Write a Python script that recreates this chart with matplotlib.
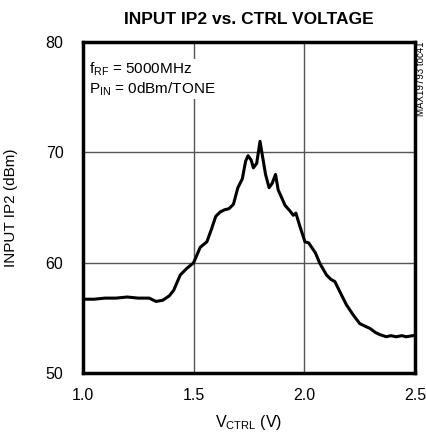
import numpy as np
import matplotlib
matplotlib.use("Agg")
import matplotlib.pyplot as plt

plt.rcParams["font.family"] = ["Liberation Sans", "DejaVu Sans"]
plt.rcParams["mathtext.fontset"] = "custom"
plt.rcParams["mathtext.rm"] = "Liberation Sans"
plt.rcParams["mathtext.it"] = "Liberation Sans"

# IP2 sweep over control voltage
vctrl = [1.00, 1.05, 1.10, 1.15, 1.20, 1.25, 1.30, 1.33, 1.36, 1.39, 1.41,
         1.44, 1.47, 1.50, 1.53, 1.56, 1.58, 1.60, 1.62, 1.64, 1.66, 1.68,
         1.70, 1.72, 1.735, 1.746, 1.76, 1.77, 1.785, 1.80, 1.81, 1.825,
         1.841, 1.855, 1.87, 1.882, 1.90, 1.913, 1.935, 1.95, 1.962, 1.98,
         2.003, 2.02, 2.033, 2.05, 2.07, 2.10, 2.12, 2.138, 2.16, 2.19,
         2.22, 2.25, 2.27, 2.297, 2.32, 2.34, 2.37, 2.39, 2.415, 2.44,
         2.46, 2.49, 2.50]
ip2 = [56.7, 56.7, 56.8, 56.8, 56.9, 56.8, 56.8, 56.5, 56.6, 57.0, 57.5,
       58.9, 59.5, 60.0, 61.4, 61.9, 63.0, 64.2, 64.6, 64.8, 64.9, 65.3,
       66.8, 67.6, 69.2, 69.7, 69.3, 68.6, 69.0, 71.0, 69.8, 68.0,
       66.8, 67.2, 68.0, 66.6, 65.8, 65.2, 64.7, 64.3, 64.5, 63.3,
       61.9, 61.8, 61.4, 60.9, 59.95, 58.9, 58.5, 58.3, 57.4, 56.2,
       55.3, 54.5, 54.3, 54.05, 53.7, 53.5, 53.3, 53.4, 53.3, 53.4,
       53.3, 53.4, 53.4]

x_ticks = [1.0, 1.5, 2.0, 2.5]
y_ticks = [50, 60, 70, 80]

fig = plt.figure(figsize=(4.27, 4.37), dpi=100)
ax = fig.add_axes([0.194, 0.146, 0.778, 0.758])

ax.plot(vctrl, ip2, color="black", linewidth=2.2, zorder=3)

ax.set_xlim(1.0, 2.5)
ax.set_ylim(50, 80)
ax.set_xticks(x_ticks)
ax.set_yticks(y_ticks)
ax.set_xticklabels([f"{v:.1f}" for v in x_ticks])
ax.set_yticklabels([str(v) for v in y_ticks])
ax.tick_params(length=0, labelsize=11.5)
ax.tick_params(axis="y", pad=14)
ax.tick_params(axis="x", pad=11)
ax.grid(True, color="#555555", linewidth=1.0)
ax.set_axisbelow(True)
for s in ax.spines.values():
    s.set_linewidth(2.5)

ax.set_xlabel(r"V$_{\mathrm{CTRL}}$ (V)", fontsize=11.5, labelpad=7)
ax.set_ylabel("INPUT IP2 (dBm)", fontsize=11, labelpad=20)

ax.text(0.02, 0.945,
        "f$_{\\mathrm{RF}}$ = 5000MHz\nP$_{\\mathrm{IN}}$ = 0dBm/TONE",
        transform=ax.transAxes, fontsize=11, va="top", ha="left",
        linespacing=1.2,
        bbox=dict(facecolor="white", edgecolor="none", pad=1), zorder=4)

fig.text(0.583, 0.955, "INPUT IP2 vs. CTRL VOLTAGE", ha="center", va="center",
         fontsize=12.5, fontweight="bold")
fig.text(0.985, 0.905, "MAX19793 toc41", rotation=90, ha="center", va="top",
         fontsize=7)

fig.savefig("out.png", dpi=100)
